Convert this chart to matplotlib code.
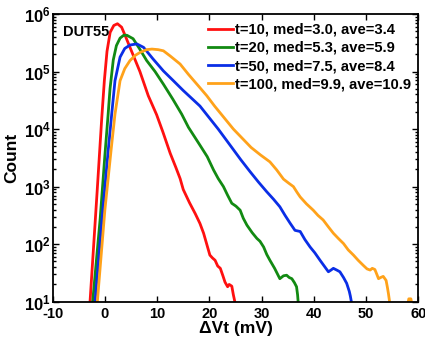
import numpy as np
import matplotlib

matplotlib.use("Agg")
import matplotlib.pyplot as plt
from matplotlib.ticker import FuncFormatter, LogLocator, MultipleLocator

plt.rcParams["font.family"] = ["Liberation Sans", "DejaVu Sans"]
plt.rcParams["font.weight"] = "bold"
plt.rcParams["axes.unicode_minus"] = False
plt.rcParams["mathtext.fontset"] = "custom"
plt.rcParams["mathtext.bf"] = "Liberation Sans:bold"
plt.rcParams["mathtext.rm"] = "Liberation Sans:bold"

# dVt histograms (mV vs log10 of count) per stress time
dvt_t10 = [-2.85, -1.5, -0.6, -0.1, 0.4, 1.0, 1.7, 2.4, 3.2, 3.9, 4.8, 6.7, 8.3,
           9.9, 11.1, 12.5, 13.6, 14.4, 15.0, 16.2, 17.3, 18.2, 18.9, 19.5, 20.1,
           20.6, 21.1, 21.6, 22.1, 22.6, 23.0, 23.5, 23.8, 24.3, 24.6, 25.0]
log_t10 = [1.0, 2.9, 4.2, 4.85, 5.35, 5.68, 5.80, 5.83, 5.77, 5.62, 5.42, 5.0, 4.58,
           4.25, 3.95, 3.58, 3.33, 3.14, 2.95, 2.72, 2.53, 2.36, 2.19, 2.0, 1.81,
           1.76, 1.72, 1.62, 1.58, 1.45, 1.34, 1.26, 1.30, 1.27, 1.12, 0.95]

dvt_t20 = [-2.34, -0.9, 0.0, 0.62, 0.98, 1.6, 2.2, 2.9, 3.6, 4.2, 5.4, 6.6, 8.0,
           9.6, 11.2, 13.0, 14.7, 16.0, 18.2, 19.6, 20.8, 21.7, 22.7, 23.5, 24.3,
           25.1, 25.9, 26.5, 27.2, 28.2, 29.1, 29.7, 30.4, 31.0, 31.6, 32.5, 33.5,
           34.2, 34.8, 35.3, 35.8, 36.3, 36.7, 36.9, 37.05]
log_t20 = [1.0, 2.45, 3.55, 4.26, 4.7, 5.2, 5.45, 5.58, 5.63, 5.63, 5.57, 5.4, 5.19,
           5.0, 4.78, 4.52, 4.26, 4.03, 3.72, 3.52, 3.29, 3.14, 3.0, 2.85, 2.71,
           2.66, 2.59, 2.45, 2.33, 2.2, 2.1, 2.05, 1.95, 1.82, 1.72, 1.58, 1.40,
           1.45, 1.46, 1.42, 1.40, 1.33, 1.26, 1.12, 0.95]

dvt_t50 = [-1.9, -0.5, 0.6, 1.3, 1.93, 2.9, 3.8, 4.8, 6.1, 7.4, 9.2, 11.2, 13.0,
           15.0, 18.2, 21.7, 24.3, 26.0, 27.8, 29.4, 31.0, 32.3, 33.5, 34.5, 35.5,
           36.4, 37.4, 38.3, 39.3, 40.2, 41.2, 42.0, 42.8, 43.3, 43.75, 44.4, 45.0,
           45.7, 46.3, 46.8, 47.0, 47.3]
log_t50 = [1.0, 2.5, 3.6, 4.26, 4.84, 5.25, 5.4, 5.46, 5.48, 5.42, 5.22, 5.01, 4.85,
           4.67, 4.40, 4.0, 3.68, 3.47, 3.26, 3.08, 2.91, 2.78, 2.65, 2.50, 2.36,
           2.24, 2.22, 2.08, 1.95, 1.85, 1.72, 1.62, 1.52, 1.55, 1.58, 1.55, 1.52,
           1.42, 1.32, 1.18, 1.10, 0.95]

dvt_t100 = [-1.45, 0.0, 1.2, 1.93, 2.9, 3.8, 4.8, 5.8, 6.7, 8.0, 9.0, 10.2, 11.2,
            12.5, 14.4, 16.0, 17.9, 19.5, 21.0, 22.8, 24.6, 26.3, 28.0, 29.8, 31.6,
            32.9, 34.2, 35.2, 36.1, 36.8, 37.4, 38.6, 39.9, 40.8, 41.8, 42.8, 43.75,
            44.7, 45.7, 46.6, 47.6, 48.5, 49.5, 50.2, 50.8, 51.2, 51.7, 52.1, 52.4,
            52.8, 53.3, 53.85, 54.1, 54.3, 54.6, 55.0, 57.9, 58.2, 58.6, 58.9]
log_t100 = [1.0, 2.6, 3.65, 4.26, 4.84, 5.05, 5.19, 5.28, 5.33, 5.38, 5.39, 5.38, 5.36,
            5.27, 5.13, 4.95, 4.75, 4.58, 4.4, 4.2, 4.0, 3.84, 3.68, 3.55, 3.43,
            3.29, 3.13, 3.06, 3.0, 2.90, 2.82, 2.70, 2.59, 2.50, 2.42, 2.30, 2.19,
            2.10, 2.01, 1.90, 1.81, 1.72, 1.63, 1.57, 1.55, 1.58, 1.56, 1.47, 1.40,
            1.42, 1.44, 1.37, 1.25, 1.14, 0.95, np.nan, 0.9, 1.05, 1.05, 0.9]

labels = ["t=10, med=3.0, ave=3.4", "t=20, med=5.3, ave=5.9",
          "t=50, med=7.5, ave=8.4", "t=100, med=9.9, ave=10.9"]
colors = ["#ff1010", "#128a12", "#0a2ee6", "#ffa21a"]

series = [(dvt_t10, log_t10), (dvt_t20, log_t20), (dvt_t50, log_t50), (dvt_t100, log_t100)]

fig = plt.figure(figsize=(4.25, 3.45), dpi=100)
ax = fig.add_axes([0.124, 0.1255, 0.86, 0.834])

for (x, lg), lab, c in zip(series, labels, colors):
    ax.plot(x, 10 ** np.asarray(lg, dtype=float), color=c, lw=2.0, label=lab,
            solid_joinstyle="round")

ax.set_yscale("log")
ax.set_xlim(-10, 60)
ax.set_ylim(10, 1e6)
ax.xaxis.set_major_locator(MultipleLocator(10))
ax.yaxis.set_major_locator(LogLocator(base=10))
ax.yaxis.set_minor_locator(LogLocator(base=10, subs=np.arange(2, 10)))
ax.yaxis.set_major_formatter(FuncFormatter(lambda v, p: r"$\mathbf{10^{%d}}$" % round(np.log10(v))))
ax.tick_params(which="both", direction="in", top=True, right=True, width=1.0)
ax.tick_params(which="major", length=4)
ax.tick_params(axis="x", pad=3.5, labelsize=10.5)
ax.tick_params(axis="y", pad=1.5, labelsize=12)
ax.tick_params(which="minor", length=2)
for lab in ax.get_xticklabels():
    lab.set_fontweight("bold")
for s in ax.spines.values():
    s.set_linewidth(1.3)

ax.set_xlabel("ΔVt (mV)", fontsize=12.5, fontweight="bold", labelpad=0)
ax.set_ylabel("Count", fontsize=12.5, fontweight="bold", labelpad=3)
ax.text(0.028, 0.96, "DUT55", transform=ax.transAxes, fontsize=10.5,
        fontweight="bold", va="top", ha="left")

leg = ax.legend(loc="upper right", frameon=False, fontsize=10.6, handlelength=1.7,
                handletextpad=0.15, labelspacing=0.28, borderaxespad=0.15,
                borderpad=0.45, bbox_to_anchor=(1.005, 1.0))
for t in leg.get_texts():
    t.set_fontweight("bold")

fig.savefig("out.png", dpi=100)
